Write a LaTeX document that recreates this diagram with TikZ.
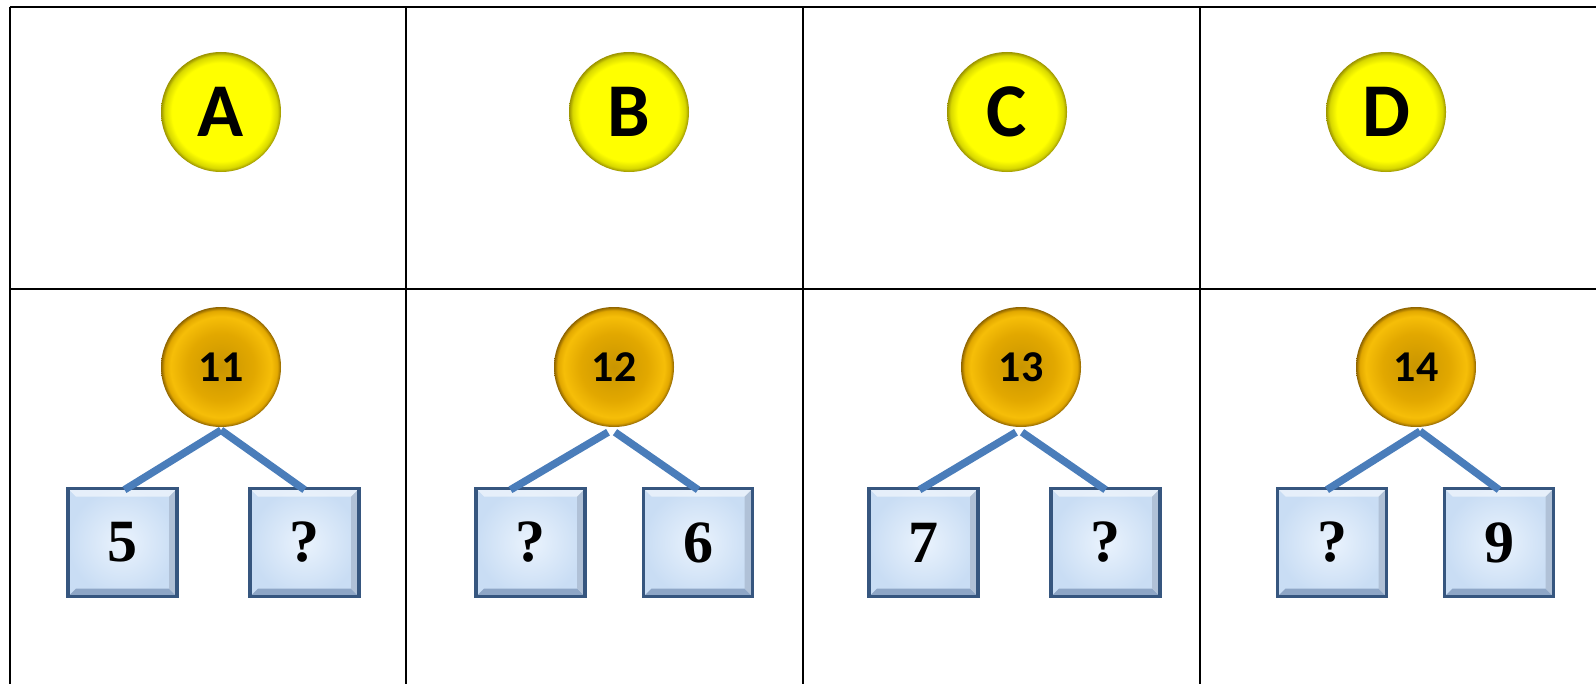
\documentclass[tikz,border=0pt]{standalone}
\usepackage{fontspec}
\setmainfont{Liberation Serif}
\setsansfont{Carlito}
\usetikzlibrary{calc}

\definecolor{ballyellow}{HTML}{FFFF00}
\definecolor{ballrim}{HTML}{9A9200}
\definecolor{sumin}{HTML}{C99500}
\definecolor{summid}{HTML}{E2A800}
\definecolor{sumlight}{HTML}{F6BE08}
\definecolor{sumrim}{HTML}{8C6200}
\definecolor{boxin}{HTML}{EAF3FD}
\definecolor{boxout}{HTML}{C9DDF4}
\definecolor{boxedge}{HTML}{36567F}
\definecolor{boxdark}{HTML}{8EA6C6}
\definecolor{lineblue}{HTML}{4A7DBA}

\pgfdeclareradialshading{yellowball}{\pgfpoint{0bp}{0bp}}{color(0bp)=(ballyellow); color(20.5bp)=(ballyellow); color(23.5bp)=(ballyellow!85!black); color(25bp)=(ballrim); color(50bp)=(ballrim)}
\pgfdeclareradialshading{sumball}{\pgfpoint{0bp}{0bp}}{color(0bp)=(sumin); color(14bp)=(summid); color(21bp)=(sumlight); color(23.5bp)=(summid); color(25bp)=(sumrim); color(50bp)=(sumrim)}
\pgfdeclareradialshading{boxfill}{\pgfpoint{0bp}{0bp}}{color(0bp)=(boxin); color(25bp)=(boxout); color(50bp)=(boxout)}

\tikzset{
  lettercircle/.style={circle, minimum size=120bp, inner sep=0pt, shading=yellowball,
    font=\sffamily\bfseries\fontsize{76bp}{76bp}\selectfont},
  sumcircle/.style={circle, minimum size=120bp, inner sep=0pt, shading=sumball,
    font=\sffamily\bfseries\fontsize{44bp}{44bp}\selectfont},
  partbox/.style={rectangle, minimum width=109bp, minimum height=108bp, inner sep=0pt,
    draw=boxedge, line width=3.5bp, shading=boxfill,
    font=\rmfamily\bfseries\fontsize{60bp}{60bp}\selectfont,
    path picture={
      \fill[boxdark] (path picture bounding box.south west) -- (path picture bounding box.south east)
        -- ([shift={(-8bp,8bp)}]path picture bounding box.south east) -- ([shift={(8bp,8bp)}]path picture bounding box.south west) -- cycle;
      \fill[boxdark!70] (path picture bounding box.south east) -- (path picture bounding box.north east)
        -- ([shift={(-8bp,-8bp)}]path picture bounding box.north east) -- ([shift={(-8bp,8bp)}]path picture bounding box.south east) -- cycle;
      \fill[white, opacity=0.55] (path picture bounding box.north west) -- (path picture bounding box.north east)
        -- ([shift={(-8bp,-8bp)}]path picture bounding box.north east) -- ([shift={(8bp,-8bp)}]path picture bounding box.north west) -- cycle;
    }},
  branch/.style={lineblue, line width=7.5bp},
  grid/.style={black, line width=2bp}
}

\begin{document}
\begin{tikzpicture}[x=1bp, y=-1bp]

% Page size
\useasboundingbox (0,0) rectangle (1596,684);

% Table lines (right and bottom run off the page)
\draw[grid] (9.5,7) -- (1610,7);
\draw[grid] (9.5,289) -- (1610,289);
\draw[grid] (9.5,7) -- (9.5,700);
\draw[grid] (406,7) -- (406,700);
\draw[grid] (803,7) -- (803,700);
\draw[grid] (1200,7) -- (1200,700);

% Top row: letters
\node[lettercircle] (la) at (221,112) {A};
\node[lettercircle] (lb) at (629,112) {B};
\node[lettercircle] (lc) at (1007,112) {C};
\node[lettercircle] (ld) at (1386,112) {D};

% Bottom row: sums
\node[sumcircle] (sa) at (221,367) {11};
\node[sumcircle] (sb) at (614,367) {12};
\node[sumcircle] (sc) at (1021,367) {13};
\node[sumcircle] (sd) at (1416,367) {14};

% Bottom row: parts
\node[partbox] (pa1) at (122.5,542.5) {5};
\node[partbox] (pa2) at (304.5,542.5) {?};
\node[partbox] (pb1) at (530.5,542.5) {?};
\node[partbox] (pb2) at (698,542.5) {6};
\node[partbox] (pc1) at (923.5,542.5) {7};
\node[partbox] (pc2) at (1105.5,542.5) {?};
\node[partbox] (pd1) at (1332,542.5) {?};
\node[partbox] (pd2) at (1499,542.5) {9};

% Branches for A
\draw[branch] ([yshift=-3bp]sa.south) -- ([xshift=2bp,yshift=-3bp]pa1.north);
\draw[branch] ([yshift=-3bp]sa.south) -- ([yshift=-3bp]pa2.north);

% Branches for B
\draw[branch] ([xshift=-6bp,yshift=-5bp]sb.south) -- ([xshift=-20bp,yshift=-3bp]pb1.north);
\draw[branch] ([xshift=1bp,yshift=-5bp]sb.south) -- ([yshift=-3bp]pb2.north);

% Branches for C
\draw[branch] ([xshift=-5bp,yshift=-5bp]sc.south) -- ([xshift=-4bp,yshift=-3bp]pc1.north);
\draw[branch] ([xshift=1bp,yshift=-5bp]sc.south) -- ([yshift=-3bp]pc2.north);

% Branches for D
\draw[branch] ([xshift=4bp,yshift=-4bp]sd.south) -- ([xshift=-5bp,yshift=-3bp]pd1.north);
\draw[branch] ([xshift=4bp,yshift=-4bp]sd.south) -- ([yshift=-3bp]pd2.north);

\end{tikzpicture}
\end{document}
